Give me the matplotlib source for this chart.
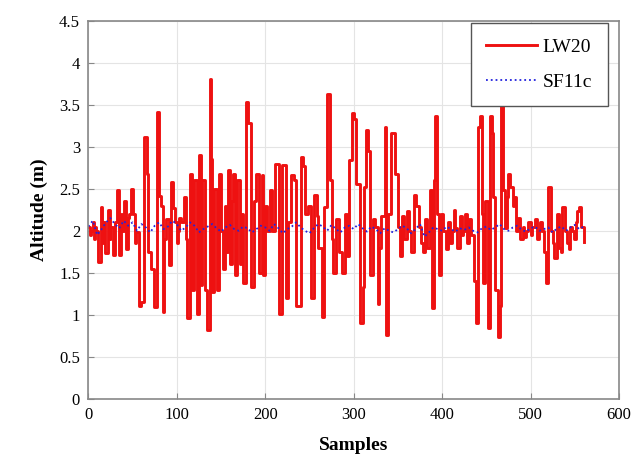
import numpy as np
import matplotlib
matplotlib.use("Agg")
import matplotlib.pyplot as plt

# === LW20 (step-like altitude readings) ===
lw20_samples = [0, 2, 3, 5, 6, 8, 9, 11, 14, 16, 17, 19, 22, 24, 25, 28, 30, 32, 35, 37, 38, 40, 43, 45, 46, 48, 51, 53, 54,
                57, 60, 63, 66, 68, 71, 74, 78, 80, 82, 84, 86, 88, 91, 93, 96, 98, 100, 101, 103, 105, 108, 110, 112,
                115, 117, 120, 123, 125, 127, 129, 132, 134, 137, 139, 140, 142, 145, 148, 150, 152, 154, 156, 158, 160, 162, 164, 166, 168,
                171, 173, 175, 178, 181, 184, 187, 189, 193, 196, 198, 200, 202, 205, 208, 211, 216, 219, 224, 226, 229, 232, 235,
                240, 243, 245, 248, 252, 255, 258, 260, 264, 267, 270, 273, 275, 277, 280, 283, 287, 290, 292, 295, 298, 300,
                303, 307, 310, 312, 314, 316, 319, 322, 324, 327, 329, 331, 335, 337, 339, 342, 345, 347, 350, 352, 355, 357,
                360, 363, 365, 368, 371, 374, 376, 378, 381, 383, 386, 389, 391, 392, 394, 397, 399, 401, 404, 407, 409, 411, 413, 415,
                417, 420, 422, 424, 426, 428, 430, 433, 436, 438, 441, 443, 445, 446, 448, 452, 454, 456, 458, 460, 463, 465, 467, 469, 471,
                473, 475, 477, 480, 481, 484, 486, 488, 491, 493, 495, 497, 500, 502, 505, 507, 509, 511, 513, 515, 518, 520, 523, 525, 527, 530, 532, 534, 536,
                539, 541, 543, 545, 547, 549, 551, 553, 555, 557, 560]
lw20_alt = [2.05, 1.95, 2.0, 2.1, 1.9, 2.05, 2.0, 1.63, 2.28, 1.85, 2.1, 1.73, 2.25, 1.9, 2.05, 1.71, 2.1, 2.48, 1.71, 2.2, 2.0, 2.36, 1.78, 2.15, 2.2, 2.5, 2.2, 1.85, 1.98,
            1.11, 1.15, 3.12, 2.68, 1.75, 1.55, 1.09, 3.41, 2.41, 2.3, 1.03, 1.9, 2.14, 1.59, 2.58, 2.27, 2.1, 1.85, 2.0, 2.15, 2.1, 2.4, 1.9, 0.96,
            2.68, 1.3, 2.6, 1.01, 2.9, 1.35, 2.6, 1.3, 0.82, 3.81, 2.85, 1.27, 2.5, 1.3, 2.67, 2.0, 1.55, 2.3, 1.75, 2.72, 1.6, 2.35, 2.68, 1.47, 2.6,
            1.6, 2.2, 1.38, 3.53, 3.28, 1.33, 2.36, 2.68, 1.5, 2.66, 1.47, 2.3, 2.0, 2.48, 2.0, 2.8, 1.01, 2.78, 1.2, 2.1, 2.66, 2.6, 1.1,
            2.88, 2.77, 2.2, 2.3, 1.2, 2.42, 2.17, 1.8, 0.98, 2.28, 3.63, 2.6, 1.9, 1.5, 2.14, 1.75, 1.5, 2.2, 1.7, 2.84, 3.4, 3.33,
            2.56, 0.9, 1.33, 2.52, 3.2, 2.95, 1.47, 2.14, 2.05, 1.13, 1.8, 2.17, 3.24, 0.76, 2.2, 3.16, 3.16, 2.68, 2.05, 1.7, 2.17, 1.9,
            2.24, 2.0, 1.75, 2.42, 2.3, 2.05, 1.85, 1.75, 2.14, 1.8, 2.48, 1.08, 2.6, 3.36, 2.2, 1.47, 2.2, 2.0, 1.78, 2.1, 1.85, 2.0, 2.25, 2.03,
            1.8, 2.17, 1.95, 2.0, 2.2, 1.85, 2.14, 1.95, 1.4, 0.9, 3.24, 3.37, 2.2, 1.38, 2.36, 0.84, 3.36, 3.16, 2.4, 1.3, 0.74, 1.1, 3.5, 2.48, 2.03,
            2.4, 2.68, 2.52, 2.3, 2.4, 2.0, 2.15, 1.9, 2.05, 1.92, 2.0, 2.1, 1.95, 2.05, 2.14, 1.9, 2.0, 2.1, 2.0, 1.75, 1.38, 2.52, 2.0, 1.85, 1.68, 2.2, 1.8, 1.75, 2.28,
            2.0, 1.85, 1.78, 2.05, 2.0, 1.9, 2.1, 2.24, 2.28, 2.05, 1.87]

# === SF11c (smoother reference, every 5 samples) ===
sf11c_alt = [2.05, 2.12, 1.95, 2.02, 2.10, 2.15, 2.08, 2.03, 2.12, 2.06, 2.10, 2.00, 2.08, 2.04, 1.98, 2.06,
             2.10, 2.02, 2.05, 2.12, 2.08, 2.00, 2.04, 2.10, 2.06, 1.98, 2.02, 2.05, 2.08, 2.03, 1.99, 2.04,
             2.07, 2.02, 2.00, 2.05, 2.03, 1.98, 2.02, 2.06, 2.04, 2.00, 2.08, 2.03, 1.97, 2.02, 2.05, 2.10,
             2.04, 2.00, 1.97, 2.03, 2.08, 2.05, 2.00, 2.07, 2.02, 1.98, 2.04, 2.06, 2.02, 2.08, 2.03, 1.99,
             2.05, 2.02, 1.97, 2.03, 2.00, 1.98, 2.02, 2.06, 2.03, 1.97, 2.02, 2.08, 1.93, 1.98, 2.04, 2.02,
             2.00, 2.05, 2.02, 1.99, 2.03, 2.01, 2.04, 2.00, 1.98, 2.03, 2.05, 2.01, 2.04, 2.08, 2.02, 2.00,
             2.04, 2.06, 2.01, 1.99, 2.03, 2.05, 2.00, 2.02, 2.04, 1.98, 2.03, 2.05, 2.00, 2.04, 2.07, 2.02, 2.05]
sf11c_samples = [5 * i for i in range(len(sf11c_alt))]

x_ticks = [0, 100, 200, 300, 400, 500, 600]
y_ticks = [0, 0.5, 1, 1.5, 2, 2.5, 3, 3.5, 4, 4.5]

plt.rcParams['font.family'] = ['Liberation Serif', 'DejaVu Serif']

fig = plt.figure(figsize=(6.31, 4.59), dpi=100)
ax = fig.add_axes([0.140, 0.131, 0.841, 0.824])

ax.plot(lw20_samples, lw20_alt, color='#ee1111', lw=2.1, drawstyle='steps-post', label='LW20')
ax.plot(sf11c_samples, sf11c_alt, color='#2222dd', lw=1.3, ls=':', label='SF11c')

ax.set_xlim(0, 600)
ax.set_ylim(0, 4.5)
ax.set_xticks(x_ticks)
ax.set_yticks(y_ticks)
ax.set_yticklabels(['0', '0.5', '1', '1.5', '2', '2.5', '3', '3.5', '4', '4.5'])
ax.grid(True, color='#e4e4e4', lw=0.8)
ax.set_axisbelow(True)
for sp in ax.spines.values():
    sp.set_color('#888888')
    sp.set_linewidth(1.2)
ax.tick_params(direction='in', length=4, color='#888888', labelsize=12, pad=6)

ax.set_xlabel('Samples', fontsize=14, fontweight='bold', labelpad=10)
ax.set_ylabel('Altitude (m)', fontsize=14, fontweight='bold', labelpad=8)

leg = ax.legend(loc='upper right', bbox_to_anchor=(0.979, 0.995), fontsize=14,
                frameon=True, fancybox=False, framealpha=1.0,
                edgecolor='#555555', borderaxespad=0.0, handlelength=2.6,
                borderpad=0.8, labelspacing=0.9, handletextpad=0.3)
leg.get_frame().set_linewidth(1.0)

fig.savefig('out.png', dpi=100)
